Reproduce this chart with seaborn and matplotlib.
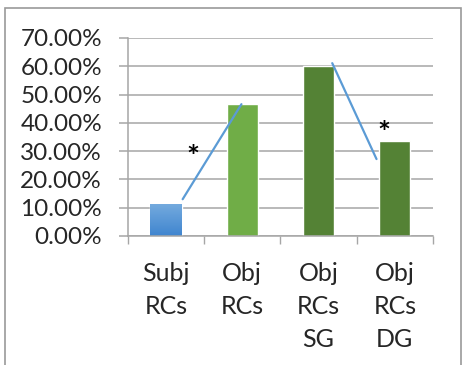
import numpy as np
import pandas as pd
import matplotlib
matplotlib.use("Agg")
import matplotlib.pyplot as plt
from matplotlib.patches import Rectangle
from matplotlib.colors import LinearSegmentedColormap
import seaborn as sns

# Share of responses per relative-clause condition
categories = ["Subj\nRCs", "Obj\nRCs", "Obj\nRCs\nSG", "Obj\nRCs\nDG"]
values = [11.3, 46.6, 60.0, 33.7]
bar_colors = ["#5b9bd5", "#70ad47", "#548235", "#548235"]
y_ticks = [0, 10, 20, 30, 40, 50, 60, 70]

# Significance connectors (x in category units, y in percent)
connector_a_x = [0.22, 0.99]
connector_a_y = [13.0, 46.6]
connector_b_x = [2.18, 2.76]
connector_b_y = [61.1, 27.2]
star_x = [0.36, 2.86]
star_y = [27.5, 36.2]

sns.set_style("white")
plt.rcParams["font.family"] = ["Lato", "DejaVu Sans"]

fig = plt.figure(figsize=(4.62, 3.65), dpi=100)
ax = fig.add_axes([127.7 / 462, 129 / 365, (433 - 127.7) / 462, 198 / 365])

df = pd.DataFrame({"cond": categories, "pct": values})
sns.barplot(data=df, x="cond", y="pct", hue="cond", palette=bar_colors,
            legend=False, width=0.41, ax=ax, saturation=1)

# Vertical gradient fill on the first bar
p0 = ax.patches[0]
x0, y0 = p0.get_x(), p0.get_y()
w0, h0 = p0.get_width(), p0.get_height()
cmap = LinearSegmentedColormap.from_list("blue_grad", ["#3f85cf", "#74aade"])
grad = np.linspace(0, 1, 256).reshape(-1, 1)
im = ax.imshow(grad, cmap=cmap, origin="lower", aspect="auto",
               extent=[x0, x0 + w0, y0, y0 + h0], zorder=p0.get_zorder() + 0.1)
im.set_clip_path(p0)
ax.set_xlim(-0.5, 3.5)

ax.set_ylim(0, 70)
ax.set_yticks(y_ticks)
ax.set_yticklabels([f"{v:.2f}%" for v in y_ticks])
ax.yaxis.grid(True, color="#a6a6a6", linewidth=1.1)
ax.set_axisbelow(True)

ax.set_xticks(range(len(categories)))
ax.set_xticklabels(categories, linespacing=1.52, va="top")
ax.set_xticks(np.arange(-0.5, 4.0, 1.0), minor=True)
ax.tick_params(axis="x", which="major", length=0, pad=19, labelsize=18)
ax.tick_params(axis="x", which="minor", length=5.5, width=1, color="#a6a6a6",
               direction="out", bottom=True)
ax.tick_params(axis="y", length=6.5, width=1.1, color="#a6a6a6",
               direction="out", left=True, pad=12, labelsize=17.5)
ax.set_xlabel("")
ax.set_ylabel("")

for side in ["top", "right"]:
    ax.spines[side].set_visible(False)
for side in ["left", "bottom"]:
    ax.spines[side].set_color("#a6a6a6")
    ax.spines[side].set_linewidth(1.1)

ax.plot(connector_a_x, connector_a_y, color="#5b9bd5", linewidth=1.6, zorder=5)
ax.plot(connector_b_x, connector_b_y, color="#5b9bd5", linewidth=1.6, zorder=5)
for sx, sy in zip(star_x, star_y):
    ax.text(sx, sy, "*", ha="center", va="center", fontsize=22,
            fontweight="bold", color="black", zorder=6)

# Chart frame
fig.add_artist(Rectangle((5 / 462, -0.1), (461 - 5) / 462, 1.1 - 8 / 365,
                         transform=fig.transFigure, fill=False,
                         edgecolor="#9a9a9a", linewidth=1.2))

fig.savefig("out.png", dpi=100)
